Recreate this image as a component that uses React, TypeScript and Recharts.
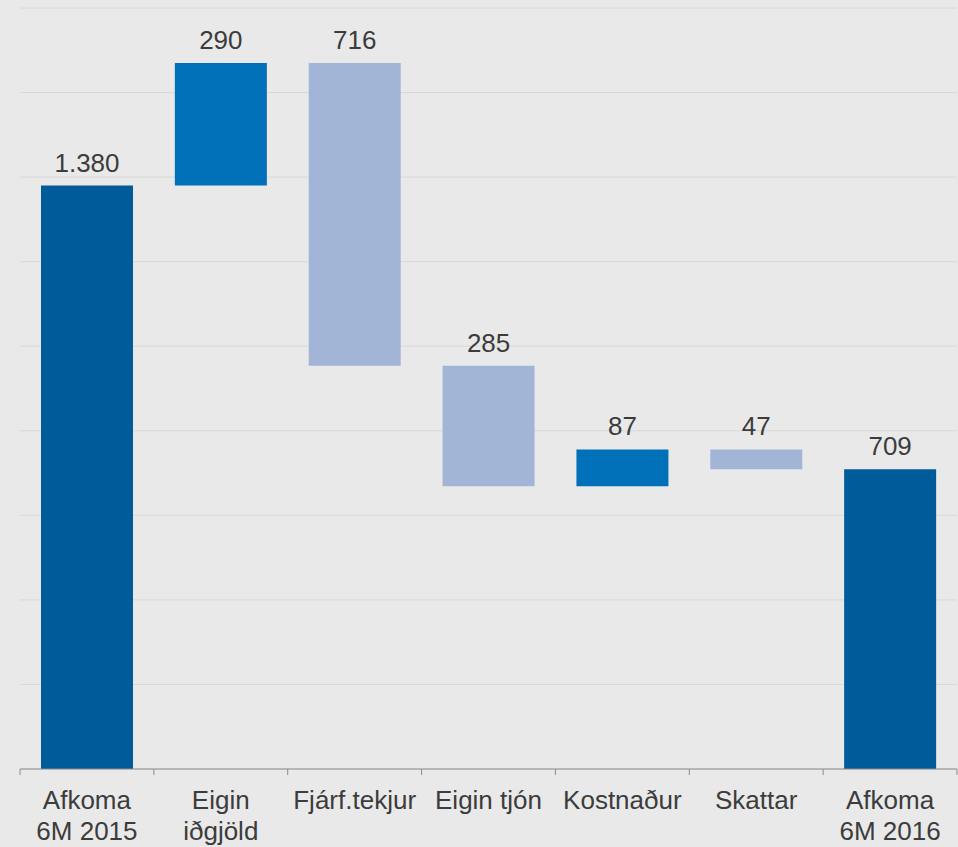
import React from 'react';
import { BarChart, Bar, XAxis, YAxis, CartesianGrid, Cell, LabelList } from 'recharts';

const categoryLines: string[][] = [
  ['Afkoma', '6M 2015'],
  ['Eigin', 'iðgjöld'],
  ['Fjárf.tekjur'],
  ['Eigin tjón'],
  ['Kostnaður'],
  ['Skattar'],
  ['Afkoma', '6M 2016'],
];
const changes = [1380, 290, -716, -285, 87, -47, 709];
const kinds = ['total', 'up', 'down', 'down', 'up', 'down', 'total'];
const yTicks = [0, 200, 400, 600, 800, 1000, 1200, 1400, 1600, 1800];

const colors: Record<string, string> = {
  total: '#005b9b',
  up: '#0070b9',
  down: '#a2b5d6',
};

const fmt = (v: number) => String(Math.abs(v)).replace(/\B(?=(\d{3})+(?!\d))/g, '.');

// waterfall ranges from the running total
let running = 0;
const data = changes.map((v, i) => {
  let range: [number, number];
  if (kinds[i] === 'total') {
    range = [0, v];
    running = v;
  } else {
    const next = running + v;
    range = [Math.min(running, next), Math.max(running, next)];
    running = next;
  }
  return { name: categoryLines[i].join(' '), range, label: fmt(v), kind: kinds[i] };
});

const font = '"Liberation Sans", Arial, sans-serif';
const axisColor = '#8c8c8c';

// label in the middle of the band, tick marks on the band edges
const CategoryTick = (props: any) => {
  const { x, y, payload, width, visibleTicksCount, index } = props;
  const lines = categoryLines[payload.index] || [];
  const step = width / visibleTicksCount;
  const isLast = index === visibleTicksCount - 1;
  return (
    <g>
      <line x1={x - step / 2} x2={x - step / 2} y1={y} y2={y + 6} stroke={axisColor} />
      {isLast && <line x1={x + step / 2} x2={x + step / 2} y1={y} y2={y + 6} stroke={axisColor} />}
      <text x={x} y={y} textAnchor="middle" fill="#3c3c3c" fontSize={26} fontFamily={font}>
        {lines.map((l, i) => (
          <tspan key={i} x={x} dy={i === 0 ? 40 : 31}>
            {l}
          </tspan>
        ))}
      </text>
    </g>
  );
};

const App: React.FC = () => {
  return (
    <div style={{ position: 'absolute', left: 0, top: 0, width: 958, height: 847, background: '#e9e9e9' }}>
      <BarChart width={958} height={847} data={data} margin={{ top: 8, right: 1, bottom: 0, left: 20 }}>
        <CartesianGrid stroke="#d8d8d8" vertical={false} />
        <XAxis
          dataKey="name"
          interval={0}
          axisLine={{ stroke: axisColor }}
          tickLine={false}
          tickSize={0}
          tickMargin={0}
          height={78}
          tick={<CategoryTick />}
        />
        <YAxis hide domain={[0, 1800]} ticks={yTicks} />
        <Bar dataKey="range" barSize={92} isAnimationActive={false}>
          {data.map((d, i) => (
            <Cell key={i} fill={colors[d.kind]} />
          ))}
          <LabelList dataKey="label" position="top" offset={14} fill="#3c3c3c" fontSize={26} fontFamily={font} />
        </Bar>
      </BarChart>
    </div>
  );
};

export default App;
